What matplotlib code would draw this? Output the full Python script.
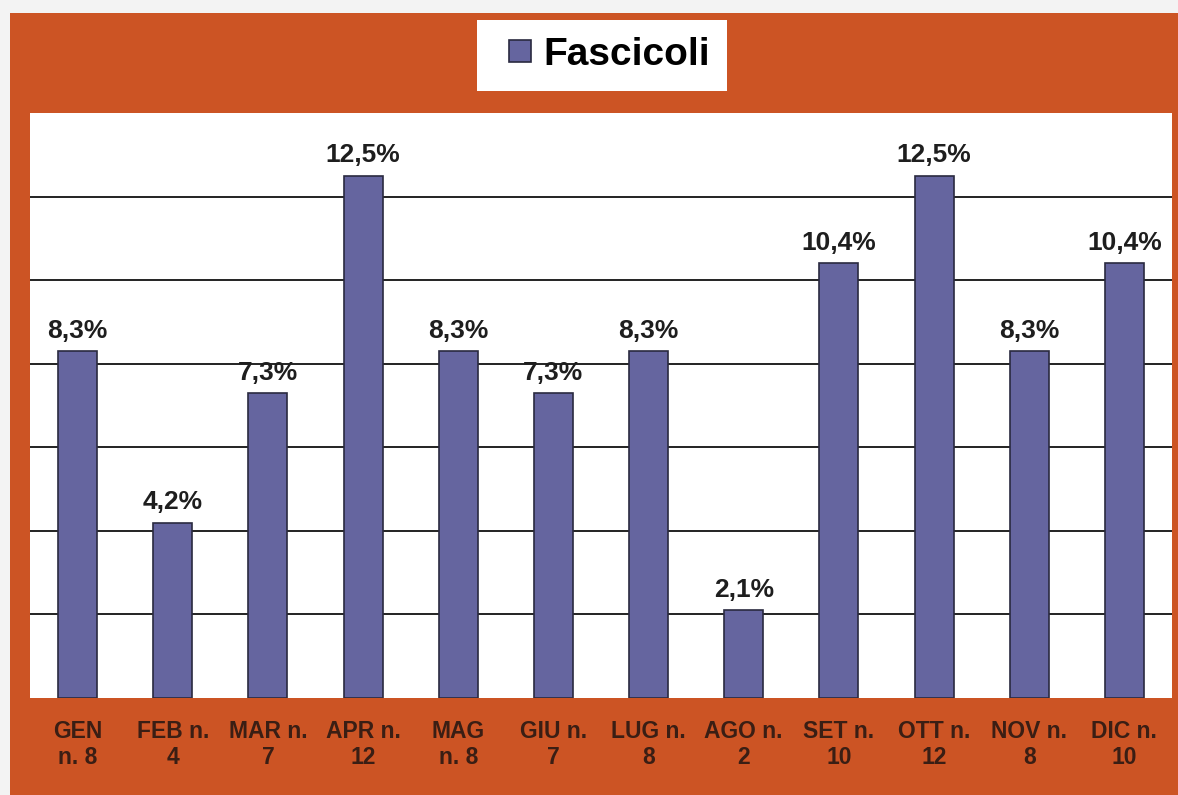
import matplotlib.pyplot as plt
from matplotlib.patches import Rectangle
from matplotlib.lines import Line2D

# Data
months = ["GEN", "FEB", "MAR", "APR", "MAG", "GIU", "LUG", "AGO", "SET", "OTT", "NOV", "DIC"]
counts = [8, 4, 7, 12, 8, 7, 8, 2, 10, 12, 8, 10]
percents = [8.3, 4.2, 7.3, 12.5, 8.3, 7.3, 8.3, 2.1, 10.4, 12.5, 8.3, 10.4]
tick_labels = ["GEN\nn. 8", "FEB n.\n4", "MAR n.\n7", "APR n.\n12", "MAG\nn. 8", "GIU n.\n7",
               "LUG n.\n8", "AGO n.\n2", "SET n.\n10", "OTT n.\n12", "NOV n.\n8", "DIC n.\n10"]

orange = "#CC5424"
bar_color = "#65659F"
text_dark = "#3A1E14"

plt.rcParams['font.family'] = ['Liberation Sans', 'DejaVu Sans']

W, H = 1178, 795
fig = plt.figure(figsize=(W / 100, H / 100), dpi=100)
fig.patch.set_facecolor("#F3F3F3")

# orange frame, behind the axes
frame = Rectangle((10 / W, 0), 1 - 10 / W, 1 - 13 / H,
                  transform=fig.transFigure, facecolor=orange,
                  edgecolor="none", zorder=-10)
fig.add_artist(frame)

ax = fig.add_axes([30 / W, (H - 698) / H, 1142 / W, (698 - 113) / H])
ax.set_facecolor("white")
ax.set_zorder(1)

x = list(range(len(months)))
ax.bar(x, percents, width=0.41, color=bar_color, edgecolor="#2A2A40",
       linewidth=1.2, zorder=3)

for xi, p in zip(x, percents):
    ax.annotate(f"{p:.1f}%".replace(".", ","), (xi, p), xytext=(0, 6),
                textcoords="offset points", ha="center", va="bottom",
                fontsize=19, fontweight="bold", color="#1E1E1E")

ax.set_xlim(-0.5, len(months) - 0.5)
ax.set_ylim(0, 14)
ax.set_yticks([2, 4, 6, 8, 10, 12])
ax.set_yticklabels([])
ax.tick_params(axis="y", length=0)
ax.grid(axis="y", color="#222222", linewidth=1.4, zorder=1)

ax.set_xticks(x)
ax.set_xticklabels(tick_labels, fontsize=16.5, fontweight="bold",
                   color=text_dark, linespacing=1.15)
ax.tick_params(axis="x", length=0, pad=16)

for s in ax.spines.values():
    s.set_visible(False)

handle = Line2D([], [], linestyle="none", marker="s", markersize=16,
                markerfacecolor=bar_color, markeredgecolor="#2A2A40",
                markeredgewidth=1.2)
leg = fig.legend([handle], ["Fascicoli"], loc="center",
                 bbox_to_anchor=(602 / W, 1 - 55 / H),
                 prop={"size": 28, "weight": "bold"},
                 handlelength=1.3, handletextpad=-0.05, borderpad=0.45,
                 fancybox=False, framealpha=1, edgecolor="white")
leg.get_frame().set_linewidth(0)

fig.savefig("out.png", dpi=100, facecolor=fig.get_facecolor())
